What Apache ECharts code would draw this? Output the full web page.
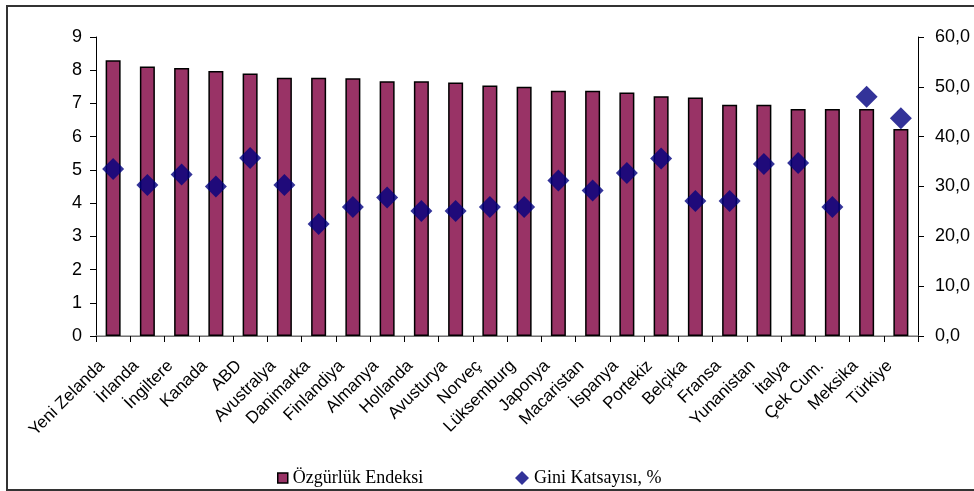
<!DOCTYPE html>
<html>
<head>
<meta charset="utf-8">
<script src="https://cdn.jsdelivr.net/npm/echarts@6/dist/echarts.min.js"></script>
<style>
  html, body { margin: 0; padding: 0; background: #fff; }
  #chart { width: 974px; height: 491px; }
</style>
</head>
<body>
<div id="chart"></div>
<script>
// country names along the x axis
const countries = [
  'Yeni Zelanda', 'İrlanda', 'İngiltere', 'Kanada', 'ABD', 'Avustralya',
  'Danimarka', 'Finlandiya', 'Almanya', 'Hollanda', 'Avusturya', 'Norveç',
  'Lüksemburg', 'Japonya', 'Macaristan', 'İspanya', 'Portekiz', 'Belçika',
  'Fransa', 'Yunanistan', 'İtalya', 'Çek Cum.', 'Meksika', 'Türkiye'
]
// freedom index (left axis)
const ozgurluk = [
  8.3, 8.11, 8.07, 7.98, 7.9, 7.77,
  7.77, 7.76, 7.67, 7.67, 7.63, 7.54,
  7.5, 7.38, 7.38, 7.33, 7.22, 7.18,
  6.96, 6.96, 6.83, 6.83, 6.83, 6.23
]
// gini coefficient, % (right axis)
const gini = [
  33.5, 30.3, 32.4, 30.0, 35.7, 30.3,
  22.5, 25.9, 27.8, 25.1, 25.1, 25.9,
  25.9, 31.2, 29.2, 32.7, 35.6, 27.1,
  27.1, 34.5, 34.7, 25.9, 48.0, 43.7
]
const leftTicks = { min: 0, max: 9, interval: 1 }
const rightTicks = { min: 0, max: 60, interval: 10 }

const chart = echarts.init(document.getElementById('chart'), null, { renderer: 'canvas' })

const axisFont = { color: '#000', fontFamily: 'Liberation Sans', fontSize: 18 }
const legendFont = { color: '#000', fontFamily: 'Liberation Serif', fontSize: 18 }

const option = {
  backgroundColor: '#fff',
  animation: false,
  graphic: [{
    type: 'rect',
    shape: { x: 7, y: 6, width: 990, height: 484 },
    style: { fill: 'none', stroke: '#333', lineWidth: 2 },
    silent: true,
  }],
  grid: { left: 96, right: 56, top: 37, bottom: 155 },
  legend: [
    {
      left: 272, top: 464,
      itemWidth: 10, itemHeight: 10, itemGap: 6,
      textStyle: legendFont,
      data: [{ name: 'Özgürlük Endeksi', icon: 'rect', itemStyle: { borderColor: '#000', borderWidth: 1.5 } }],
    },
    {
      left: 510, top: 464,
      itemWidth: 14, itemHeight: 14, itemGap: 4,
      textStyle: legendFont,
      data: [{ name: 'Gini Katsayısı, %', icon: 'diamond' }],
    },
  ],
  xAxis: [
    {
      type: 'category',
      data: countries,
      axisLine: { lineStyle: { color: '#000', width: 1 } },
      axisTick: { show: true, length: 6, lineStyle: { color: '#000' } },
      axisLabel: Object.assign({ rotate: 45, interval: 0, margin: 16, padding: [0, 16, 0, 0] }, axisFont, { fontSize: 17 }),
    },
    {
      type: 'category',
      position: 'top',
      data: countries,
      axisLine: { lineStyle: { color: '#999', width: 1.5 } },
      axisTick: { show: false },
      axisLabel: { show: false },
    },
  ],
  yAxis: [
    {
      type: 'value',
      min: leftTicks.min, max: leftTicks.max, interval: leftTicks.interval,
      axisLine: { show: true, lineStyle: { color: '#000' } },
      axisTick: { show: true, length: 6, lineStyle: { color: '#000' } },
      axisLabel: Object.assign({ margin: 14 }, axisFont),
      splitLine: { show: false },
    },
    {
      type: 'value',
      position: 'right',
      min: rightTicks.min, max: rightTicks.max, interval: rightTicks.interval,
      axisLine: { show: true, lineStyle: { color: '#000' } },
      axisTick: { show: true, length: 6, lineStyle: { color: '#000' } },
      axisLabel: Object.assign({
        margin: 17,
        formatter: v => v.toFixed(1).replace('.', ','),
      }, axisFont),
      splitLine: { show: false },
    },
  ],
  series: [
    {
      name: 'Özgürlük Endeksi',
      type: 'bar',
      data: ozgurluk,
      barWidth: 15,
      itemStyle: { color: '#993366', borderColor: '#000', borderWidth: 1.5 },
    },
    {
      name: 'Gini Katsayısı, %',
      type: 'scatter',
      yAxisIndex: 1,
      data: gini,
      symbol: 'diamond',
      symbolSize: [22, 22],
      itemStyle: { color: '#000080' },
    },
  ],
}

chart.setOption(option)
</script>
</body>
</html>
